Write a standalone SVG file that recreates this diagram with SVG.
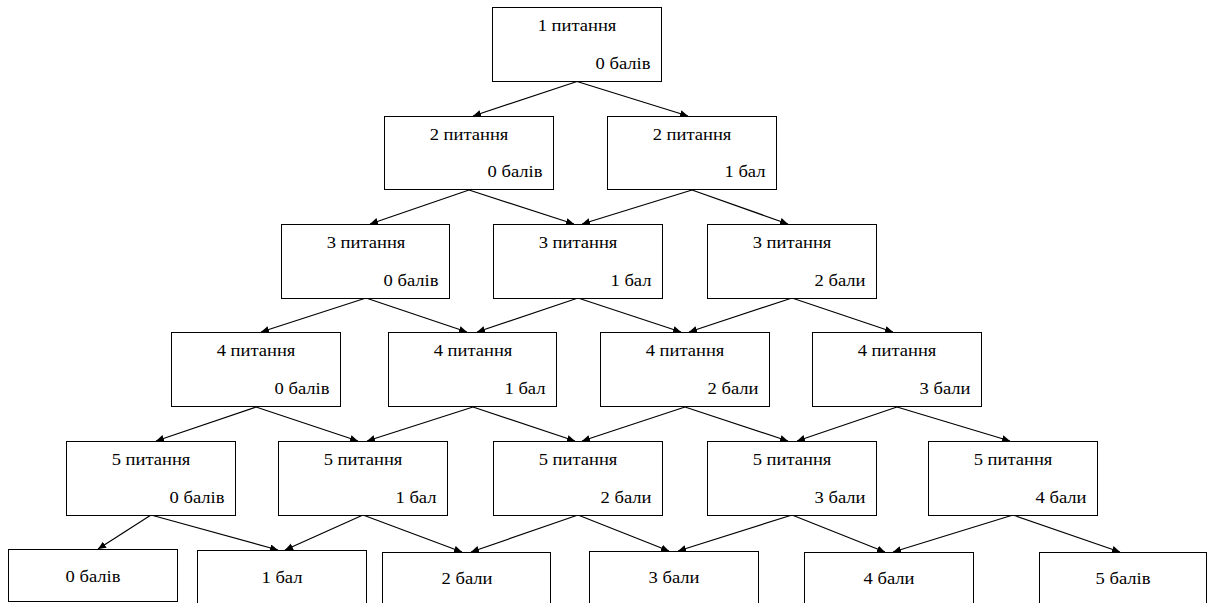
<svg xmlns="http://www.w3.org/2000/svg" width="1208" height="603" viewBox="0 0 1208 603">
<defs>
<style>
.box{fill:#fff;stroke:#000;stroke-width:1}
.t{font-family:'Liberation Serif','Times New Roman',serif;font-size:16px;fill:#000}
.c{text-anchor:middle}
.r{text-anchor:end}
.e{fill:none;stroke:#000;stroke-width:1.2}
</style>
<marker id="ah" markerUnits="userSpaceOnUse" markerWidth="9" markerHeight="8" refX="8" refY="3.5" orient="auto">
<path d="M0,0 L8,3.5 L0,7 z" fill="#000"/>
</marker>
</defs>
<rect width="1208" height="603" fill="#fff"/>
<g id="connectors">
<path class="e" marker-end="url(#ah)" d="M577,81.5 L473,116"/>
<path class="e" marker-end="url(#ah)" d="M577,81.5 L688,116"/>
<path class="e" marker-end="url(#ah)" d="M469,190 L370,224"/>
<path class="e" marker-end="url(#ah)" d="M469,190 L574,224"/>
<path class="e" marker-end="url(#ah)" d="M692,190 L582,224"/>
<path class="e" marker-end="url(#ah)" d="M692,190 L788,224"/>
<path class="e" marker-end="url(#ah)" d="M366,298 L261,332"/>
<path class="e" marker-end="url(#ah)" d="M366,298 L467,332"/>
<path class="e" marker-end="url(#ah)" d="M578,298 L477,332"/>
<path class="e" marker-end="url(#ah)" d="M578,298 L681,332"/>
<path class="e" marker-end="url(#ah)" d="M792,298 L689,332"/>
<path class="e" marker-end="url(#ah)" d="M792,298 L893,332"/>
<path class="e" marker-end="url(#ah)" d="M256,407 L156,441"/>
<path class="e" marker-end="url(#ah)" d="M256,407 L358,441"/>
<path class="e" marker-end="url(#ah)" d="M473,407 L367,441"/>
<path class="e" marker-end="url(#ah)" d="M473,407 L575,441"/>
<path class="e" marker-end="url(#ah)" d="M685,407 L582,441"/>
<path class="e" marker-end="url(#ah)" d="M685,407 L788,441"/>
<path class="e" marker-end="url(#ah)" d="M897,407 L797,441"/>
<path class="e" marker-end="url(#ah)" d="M897,407 L1010,441"/>
<path class="e" marker-end="url(#ah)" d="M151,515 L98,549"/>
<path class="e" marker-end="url(#ah)" d="M151,515 L278,550"/>
<path class="e" marker-end="url(#ah)" d="M363,515 L285,550"/>
<path class="e" marker-end="url(#ah)" d="M363,515 L462,552"/>
<path class="e" marker-end="url(#ah)" d="M578,515 L471,552"/>
<path class="e" marker-end="url(#ah)" d="M578,515 L669,551"/>
<path class="e" marker-end="url(#ah)" d="M792,515 L678,551"/>
<path class="e" marker-end="url(#ah)" d="M792,515 L885,552"/>
<path class="e" marker-end="url(#ah)" d="M1013,515 L893,552"/>
<path class="e" marker-end="url(#ah)" d="M1013,515 L1120,552"/>
</g>
<g id="nodes">
<g id="q1-0"><rect class="box" x="492.5" y="7.5" width="169" height="74"/><text class="t c" transform="translate(577,30.5) scale(1.16,1)">1 питання</text><text class="t r" transform="translate(650.5,68.5) scale(1.16,1)">0 балів</text></g>
<g id="q2-0"><rect class="box" x="384.5" y="116.5" width="169" height="73"/><text class="t c" transform="translate(469,139.5) scale(1.16,1)">2 питання</text><text class="t r" transform="translate(542.5,177) scale(1.16,1)">0 балів</text></g>
<g id="q2-1"><rect class="box" x="607.5" y="116.5" width="169" height="73"/><text class="t c" transform="translate(692,139.5) scale(1.16,1)">2 питання</text><text class="t r" transform="translate(765.5,177) scale(1.16,1)">1 бал</text></g>
<g id="q3-0"><rect class="box" x="281.5" y="224.5" width="168" height="74"/><text class="t c" transform="translate(366,247.5) scale(1.16,1)">3 питання</text><text class="t r" transform="translate(438.5,285.5) scale(1.16,1)">0 балів</text></g>
<g id="q3-1"><rect class="box" x="493.5" y="224.5" width="169" height="74"/><text class="t c" transform="translate(578,247.5) scale(1.16,1)">3 питання</text><text class="t r" transform="translate(651.5,285.5) scale(1.16,1)">1 бал</text></g>
<g id="q3-2"><rect class="box" x="707.5" y="224.5" width="169" height="74"/><text class="t c" transform="translate(792,247.5) scale(1.16,1)">3 питання</text><text class="t r" transform="translate(865.5,285.5) scale(1.16,1)">2 бали</text></g>
<g id="q4-0"><rect class="box" x="171.5" y="332.5" width="169" height="74"/><text class="t c" transform="translate(256,355.5) scale(1.16,1)">4 питання</text><text class="t r" transform="translate(329.5,393.5) scale(1.16,1)">0 балів</text></g>
<g id="q4-1"><rect class="box" x="388.5" y="332.5" width="168" height="74"/><text class="t c" transform="translate(473,355.5) scale(1.16,1)">4 питання</text><text class="t r" transform="translate(545.5,393.5) scale(1.16,1)">1 бал</text></g>
<g id="q4-2"><rect class="box" x="600.5" y="332.5" width="169" height="74"/><text class="t c" transform="translate(685,355.5) scale(1.16,1)">4 питання</text><text class="t r" transform="translate(758.5,393.5) scale(1.16,1)">2 бали</text></g>
<g id="q4-3"><rect class="box" x="812.5" y="332.5" width="169" height="74"/><text class="t c" transform="translate(897,355.5) scale(1.16,1)">4 питання</text><text class="t r" transform="translate(970.5,393.5) scale(1.16,1)">3 бали</text></g>
<g id="q5-0"><rect class="box" x="66.5" y="441.5" width="169" height="74"/><text class="t c" transform="translate(151,464.5) scale(1.16,1)">5 питання</text><text class="t r" transform="translate(224.5,502.5) scale(1.16,1)">0 балів</text></g>
<g id="q5-1"><rect class="box" x="278.5" y="441.5" width="169" height="74"/><text class="t c" transform="translate(363,464.5) scale(1.16,1)">5 питання</text><text class="t r" transform="translate(436.5,502.5) scale(1.16,1)">1 бал</text></g>
<g id="q5-2"><rect class="box" x="493.5" y="441.5" width="169" height="74"/><text class="t c" transform="translate(578,464.5) scale(1.16,1)">5 питання</text><text class="t r" transform="translate(651.5,502.5) scale(1.16,1)">2 бали</text></g>
<g id="q5-3"><rect class="box" x="707.5" y="441.5" width="169" height="74"/><text class="t c" transform="translate(792,464.5) scale(1.16,1)">5 питання</text><text class="t r" transform="translate(865.5,502.5) scale(1.16,1)">3 бали</text></g>
<g id="q5-4"><rect class="box" x="928.5" y="441.5" width="169" height="74"/><text class="t c" transform="translate(1013,464.5) scale(1.16,1)">5 питання</text><text class="t r" transform="translate(1086.5,502.5) scale(1.16,1)">4 бали</text></g>
<g id="r0"><rect class="box" x="8.5" y="549.5" width="169" height="52"/><text class="t c" transform="translate(93,582) scale(1.16,1)">0 балів</text></g>
<g id="r1"><rect class="box" x="197.5" y="550.5" width="169" height="60"/><text class="t c" transform="translate(282,583) scale(1.16,1)">1 бал</text></g>
<g id="r2"><rect class="box" x="382.5" y="552.5" width="168" height="60"/><text class="t c" transform="translate(467,583.5) scale(1.16,1)">2 бали</text></g>
<g id="r3"><rect class="box" x="589.5" y="551.5" width="169" height="60"/><text class="t c" transform="translate(674,583) scale(1.16,1)">3 бали</text></g>
<g id="r4"><rect class="box" x="804.5" y="552.5" width="169" height="60"/><text class="t c" transform="translate(889,583.5) scale(1.16,1)">4 бали</text></g>
<g id="r5"><rect class="box" x="1039.5" y="552.5" width="167" height="60"/><text class="t c" transform="translate(1123,583.5) scale(1.16,1)">5 балів</text></g>
</g>
</svg>
